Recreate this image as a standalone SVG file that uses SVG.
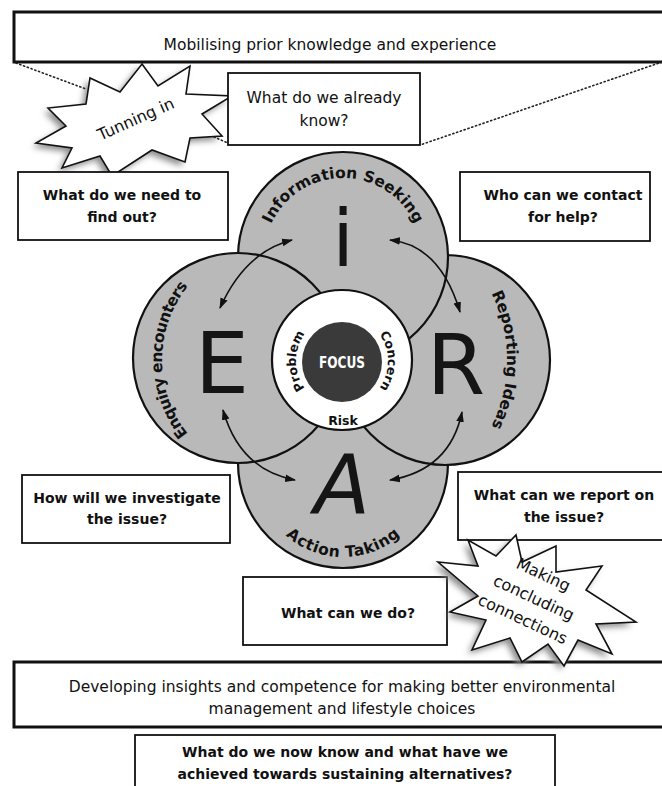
<svg xmlns="http://www.w3.org/2000/svg" width="662" height="786" viewBox="0 0 662 786">
<style>
.box{fill:#fff;stroke:#111;stroke-width:1.8}
.bigbox{fill:#fff;stroke:#111;stroke-width:3}
.q{font-family:"DejaVu Sans",sans-serif;font-weight:bold;font-size:14px;fill:#111;text-anchor:middle}
.t{font-family:"DejaVu Sans",sans-serif;font-size:15.5px;fill:#111;text-anchor:middle}
.circ{fill:#b9b9b9;stroke:#111;stroke-width:2.2}
.arc{font-family:"DejaVu Sans",sans-serif;font-weight:bold;font-size:15.5px;fill:#111}
.big{font-family:"DejaVu Sans",sans-serif;fill:#151515;text-anchor:middle}
.ring{font-family:"DejaVu Sans",sans-serif;font-weight:bold;font-size:12.5px;fill:#111}
.star{fill:#fff;stroke:#111;stroke-width:1.6}
.shadow{fill:#8c8c8c;filter:url(#blur)}
.dots{fill:none;stroke:#222;stroke-width:1.6;stroke-dasharray:1.2 2.8;stroke-linecap:round}
.arrow{fill:none;stroke:#111;stroke-width:1.6;marker-start:url(#ah);marker-end:url(#ah)}
.st{font-family:"DejaVu Sans",sans-serif;font-size:16px;fill:#111;text-anchor:middle}
</style>
<defs>
<filter id="blur" x="-20%" y="-20%" width="140%" height="140%"><feGaussianBlur stdDeviation="3"/></filter>
<marker id="ah" viewBox="0 0 10 10" refX="9" refY="5" markerWidth="11" markerHeight="11" markerUnits="userSpaceOnUse" orient="auto-start-reverse"><path d="M0,1.5 L10,5 L0,8.5 z" fill="#111"/></marker>
<path id="pTop" d="M343,336 A79,79 0 1,1 343,178 A79,79 0 1,1 343,336"/>
<path id="pLeft" d="M398,360 A118,118 0 1,1 162,360 A118,118 0 1,1 398,360"/>
<path id="pRight" d="M207,360 A150,150 0 1,1 507,360 A150,150 0 1,1 207,360"/>
<path id="pBottom" d="M256,470 A87,87 0 0,0 430,470"/>
<path id="pProb" d="M388,361 A46,46 0 1,1 296,361 A46,46 0 1,1 388,361"/>
<path id="pConc" d="M296,361 A46,46 0 1,1 388,361 A46,46 0 1,1 296,361"/>
</defs>
<rect width="662" height="786" fill="#fff"/>

<g id="box-mobilising">
<rect class="bigbox" x="14" y="12" width="662" height="50"/>
<text class="t" x="330" y="50" font-size="16">Mobilising prior knowledge and experience</text>
</g>

<g id="star-tunning-in">
<polygon class="shadow" transform="translate(-4,4)" points="142,64 158,86 190,66 186,94 232,96 202,114 222,136 190,138 185,162 152,150 112,176 100,156 62,168 72,148 36,143 66,126 48,108 86,104 90,78 120,92"/>
<polygon class="star" points="142,64 158,86 190,66 186,94 232,96 202,114 222,136 190,138 185,162 152,150 112,176 100,156 62,168 72,148 36,143 66,126 48,108 86,104 90,78 120,92"/>
<text class="st" transform="translate(138,124) rotate(-24)">Tunning in</text>
</g>

<g id="box-already-know">
<rect class="box" x="228" y="73" width="192" height="72"/>
<text class="t" x="324" y="103">What do we already</text>
<text class="t" x="324" y="126">know?</text>
</g>

<g id="box-find-out">
<rect class="box" x="18" y="172" width="210" height="68"/>
<text class="q" x="122" y="200">What do we need to</text>
<text class="q" x="122" y="222">find out?</text>
</g>

<g id="box-contact">
<rect class="box" x="460" y="172" width="190" height="69"/>
<text class="q" x="563" y="200">Who can we contact</text>
<text class="q" x="563" y="222">for help?</text>
</g>

<g id="circle-action">
<circle class="circ" cx="343" cy="463" r="105"/>
<text class="big" x="342" y="513" font-size="82" font-style="italic">A</text>
<text class="arc" textLength="125" lengthAdjust="spacing"><textPath href="#pBottom" startOffset="50%" text-anchor="middle">Action Taking</textPath></text>
</g>

<g id="circle-reporting">
<circle class="circ" cx="445" cy="360" r="105"/>
<text class="big" x="456" y="394" font-size="84">R</text>
<text class="arc" textLength="138" lengthAdjust="spacing"><textPath href="#pRight" startOffset="50%" text-anchor="middle">Reporting Ideas</textPath></text>
</g>

<g id="circle-information">
<circle class="circ" cx="343" cy="257" r="105"/>
<text class="big" x="343" y="266" font-size="78">i</text>
<text class="arc" textLength="180" lengthAdjust="spacing"><textPath href="#pTop" startOffset="50%" text-anchor="middle">Information Seeking</textPath></text>
</g>

<g id="circle-enquiry">
<circle class="circ" cx="238" cy="358" r="105"/>
<text class="big" x="222" y="393" font-size="86">E</text>
<text class="arc" textLength="160" lengthAdjust="spacing"><textPath href="#pLeft" startOffset="50%" text-anchor="middle">Enquiry encounters</textPath></text>
</g>

<g id="focus">
<circle cx="342" cy="360" r="70" fill="#fff" stroke="#111" stroke-width="2.2"/>
<circle cx="342" cy="362" r="40" fill="#3a3a3a"/>
<text x="342" y="368" font-family="'DejaVu Sans Condensed','DejaVu Sans',sans-serif" font-weight="bold" font-size="15" fill="#fff" text-anchor="middle" textLength="46" lengthAdjust="spacingAndGlyphs">FOCUS</text>
<text class="ring"><textPath href="#pProb" startOffset="50%" text-anchor="middle">Problem</textPath></text>
<text class="ring"><textPath href="#pConc" startOffset="50%" text-anchor="middle">Concern</textPath></text>
<text class="ring" x="343" y="425" text-anchor="middle">Risk</text>
</g>

<g id="box-investigate">
<rect class="box" x="22" y="475" width="208" height="68"/>
<text class="q" x="127" y="503">How will we investigate</text>
<text class="q" x="127" y="524">the issue?</text>
</g>

<g id="box-report">
<rect class="box" x="458" y="472" width="210" height="68"/>
<text class="q" x="564" y="500">What can we report on</text>
<text class="q" x="564" y="522">the issue?</text>
</g>

<g id="box-do">
<rect class="box" x="243" y="577" width="204" height="68"/>
<text class="q" x="348" y="618">What can we do?</text>
</g>

<g id="box-developing">
<rect class="bigbox" x="14" y="662" width="662" height="65"/>
<text class="t" x="342" y="692">Developing insights and competence for making better environmental</text>
<text class="t" x="342" y="714">management and lifestyle choices</text>
</g>

<g id="star-concluding">
<polygon class="shadow" transform="translate(-4,4)" points="516,535 522,562 556,546 556,572 602,566 586,590 636,622 596,624 612,654 578,640 564,666 548,644 522,662 510,638 472,650 486,620 450,612 478,596 438,562 478,566 468,540 496,556"/>
<polygon class="star" points="516,535 522,562 556,546 556,572 602,566 586,590 636,622 596,624 612,654 578,640 564,666 548,644 522,662 510,638 472,650 486,620 450,612 478,596 438,562 478,566 468,540 496,556"/>
<g transform="translate(535,600) rotate(25)">
<text class="st" font-size="13.5" x="-3" y="-21">Making</text>
<text class="st" font-size="13.5" x="-2" y="4">concluding</text>
<text class="st" font-size="13.5" x="-3" y="28">connections</text>
</g>
</g>

<g id="box-now-know">
<rect class="box" x="135" y="735" width="420" height="70"/>
<text class="q" x="345" y="757">What do we now know and what have we</text>
<text class="q" x="345" y="779">achieved towards sustaining alternatives?</text>
</g>

<g id="connectors">
<path class="dots" d="M16,63 L86,89"/>
<path class="dots" d="M214,137 L228,143"/>
<path class="dots" d="M662,62 L420,145"/>
<path class="arrow" d="M220,308 Q245,252 292,240"/>
<path class="arrow" d="M390,240 Q440,245 460,312"/>
<path class="arrow" d="M223,410 Q240,470 295,480"/>
<path class="arrow" d="M462,412 Q450,470 390,480"/>
</g>
</svg>
